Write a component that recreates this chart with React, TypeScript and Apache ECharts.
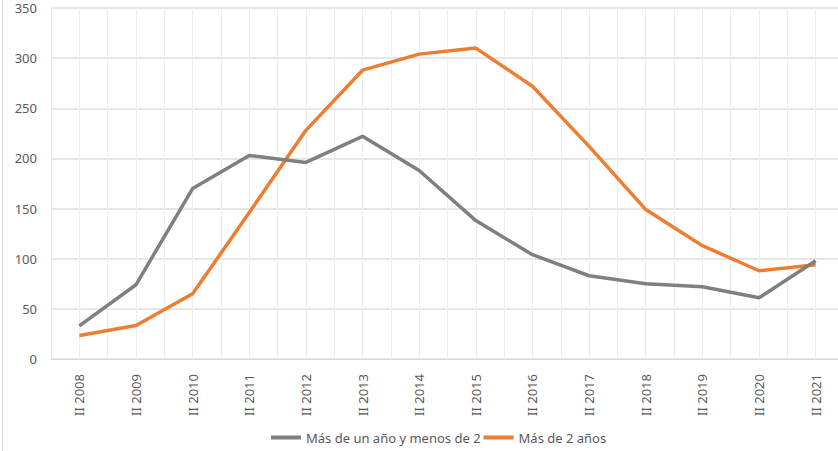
import React, { useEffect, useRef } from "react";
import * as echarts from "echarts";

const categories = ["II 2008", "II 2009", "II 2010", "II 2011", "II 2012", "II 2013", "II 2014", "II 2015", "II 2016", "II 2017", "II 2018", "II 2019", "II 2020", "II 2021"];
const seriesNames = ["Más de un año y menos de 2", "Más de 2 años"];
const masDeUnAno = [33, 74, 170, 203, 196, 222, 188, 138, 104, 83, 75, 72, 61, 98];
const masDeDosAnos = [23.5, 33.5, 65, 146, 228, 288, 304, 310, 272, 212, 149, 113, 88, 94];
const halfSlots = Array.from({ length: categories.length * 2 }, (_, i) => String(i));

export default function App() {
  const ref = useRef<HTMLDivElement>(null);
  useEffect(() => {
    if (!ref.current) return;
    const chart = echarts.init(ref.current, undefined, { renderer: "svg" });
    chart.setOption({
      animation: false,
      backgroundColor: "#ffffff",
      textStyle: { fontFamily: "Noto Sans" },
      grid: { left: 51, width: 793, top: 8, bottom: 92, containLabel: false, outerBoundsMode: "none" },
      graphic: [
        { type: "line", shape: { x1: 2.5, y1: 0, x2: 2.5, y2: 451 }, style: { stroke: "#d9d9d9", lineWidth: 1 } },
      ],
      legend: {
        bottom: 2,
        left: 266,
        itemGap: 3,
        itemWidth: 30,
        itemHeight: 4,
        icon: "rect",
        textStyle: { color: "#595959", fontSize: 13, fontFamily: "Noto Sans", padding: [0, 0, 0, 0] },
        data: seriesNames,
      },
      xAxis: [
        {
          type: "category",
          data: categories,
          boundaryGap: true,
          axisLine: { show: true, lineStyle: { color: "#d9d9d9" } },
          axisTick: { show: false },
          splitLine: { show: false },
          axisLabel: { rotate: 90, interval: 0, margin: 15, color: "#595959", fontSize: 13, fontFamily: "Noto Sans" },
        },
        {
          type: "category",
          data: halfSlots,
          boundaryGap: true,
          position: "bottom",
          axisLine: { show: false },
          axisTick: { show: false },
          axisLabel: { show: false },
          splitLine: { show: true, interval: 0, lineStyle: { color: "#eeeeee", width: 1 } },
        },
      ],
      yAxis: {
        type: "value",
        min: 0,
        max: 350,
        interval: 50,
        axisLine: { show: true, lineStyle: { color: "#e6e6e6" } },
        axisTick: { show: false },
        axisLabel: { margin: 14, color: "#595959", fontSize: 13, fontFamily: "Noto Sans" },
        splitLine: { show: true, lineStyle: { color: "#dedede", width: 1.5 } },
      },
      series: [
        {
          name: seriesNames[0],
          type: "line",
          data: masDeUnAno,
          symbol: "none",
          z: 3,
          lineStyle: { color: "#7f7f7f", width: 3.5 },
          itemStyle: { color: "#7f7f7f" },
        },
        {
          name: seriesNames[1],
          type: "line",
          data: masDeDosAnos,
          symbol: "none",
          z: 2,
          lineStyle: { color: "#ed7d31", width: 3.5 },
          itemStyle: { color: "#ed7d31" },
        },
      ],
    });
    return () => chart.dispose();
  }, []);
  return <div ref={ref} style={{ width: 838, height: 451, position: "absolute", left: 0, top: 0 }} />;
}
